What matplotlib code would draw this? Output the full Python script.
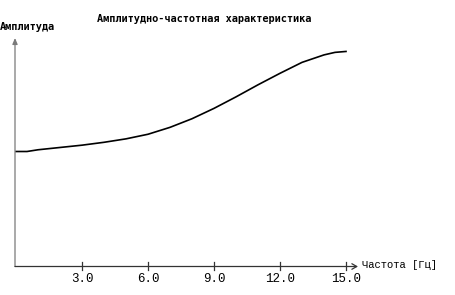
import matplotlib
matplotlib.use("Agg")
import matplotlib.pyplot as plt

# Data
freq = [0, 0.5, 1, 2, 3, 4, 5, 6, 7, 8, 9, 10, 11, 12, 13, 14, 14.5, 15]
ampl = [1.00, 1.00, 1.015, 1.035, 1.055, 1.08, 1.11, 1.15, 1.21, 1.285, 1.375,
        1.475, 1.58, 1.68, 1.775, 1.84, 1.862, 1.87]
xticks = [3.0, 6.0, 9.0, 12.0, 15.0]
xtick_labels = ["3.0", "6.0", "9.0", "12.0", "15.0"]
title = "Амплитудно-частотная характеристика"
ylabel = "Амплитуда"
xlabel = "Частота [Гц]"

W, H = 455, 295
fig = plt.figure(figsize=(W / 100, H / 100), dpi=100)
ax = fig.add_axes([0, 0, 1, 1])
ax.set_axis_off()

# pixel mapping: x_px = 16 + 22*f ; y_px(from top) = 266.5 - 115*A
sx, x0 = 22.0, 16.0
sy, y0 = 115.0, 266.5
ax.set_xlim(-x0 / sx, (W - x0) / sx)
ax.set_ylim((y0 - H) / sy, y0 / sy)

def fx(px):
    return (px - x0) / sx

def fy(py):
    return (y0 - py) / sy

axis_color = "#7a7a7a"
# Y axis with arrow
ax.annotate("", xy=(fx(15), fy(38)), xytext=(fx(15), fy(266.5)),
            arrowprops=dict(arrowstyle="-|>,head_length=0.35,head_width=0.15",
                            color=axis_color, lw=0.9, shrinkA=0, shrinkB=0))
# X axis with arrow
ax.annotate("", xy=(fx(358), fy(266.5)), xytext=(fx(15), fy(266.5)),
            arrowprops=dict(arrowstyle="->,head_length=0.35,head_width=0.2",
                            color="#333333", lw=0.9, shrinkA=0, shrinkB=0))

# ticks
for t, lab in zip(xticks, xtick_labels):
    ax.plot([t, t], [fy(261.5), fy(270)], color="#333333", lw=0.9)
    ax.text(t, fy(272.5), lab, ha="center", va="top",
            family="Liberation Mono", fontsize=9)

# curve
ax.plot(freq, ampl, color="black", lw=1.2)

ax.text(fx(204), fy(19), title, ha="center", va="center",
        family="DejaVu Sans Mono", fontweight="bold", fontsize=7.4)
ax.text(fx(0), fy(27), ylabel, ha="left", va="center",
        family="DejaVu Sans Mono", fontweight="bold", fontsize=7.4)
ax.text(fx(362), fy(265), xlabel, ha="left", va="center",
        family="Liberation Mono", fontsize=7.6)

fig.savefig("out.png", dpi=100)
